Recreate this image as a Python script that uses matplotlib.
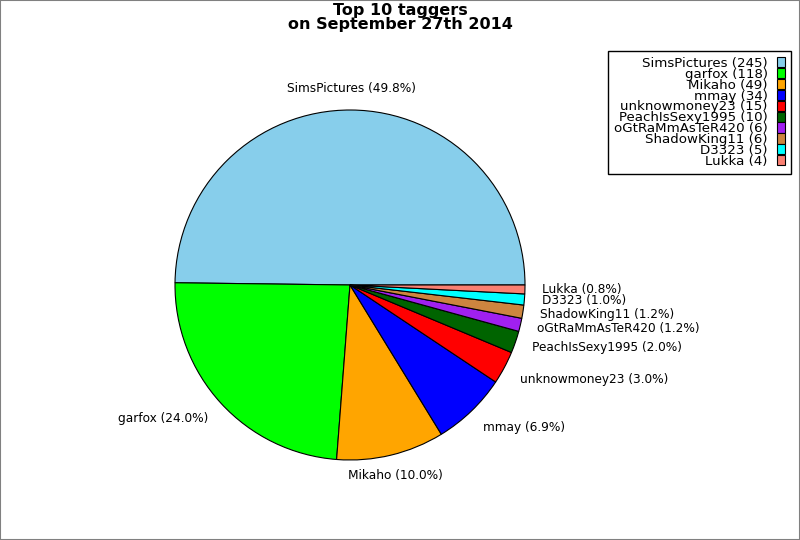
import matplotlib
matplotlib.use("Agg")
import matplotlib.pyplot as plt
from matplotlib.patches import Rectangle
from matplotlib.transforms import offset_copy

names = ["SimsPictures", "garfox", "Mikaho", "mmay", "unknowmoney23",
         "PeachIsSexy1995", "oGtRaMmAsTeR420", "ShadowKing11", "D3323", "Lukka"]
counts = [245, 118, 49, 34, 15, 10, 6, 6, 5, 4]
colors = ["#87CEEB", "#00FF00", "#FFA500", "#0000FF", "#FF0000",
          "#006400", "#A020F0", "#CD853F", "#00FFFF", "#FA8072"]

total = sum(counts)
pie_labels = [f"{n} ({c / total * 100:.1f}%)" for n, c in zip(names, counts)]
legend_labels = [f"{n} ({c})" for n, c in zip(names, counts)]

fig = plt.figure(figsize=(8, 5.4), dpi=100)
fig.patches.append(Rectangle((0, 0), 1, 1, transform=fig.transFigure,
                             fill=False, edgecolor="#808080", linewidth=1.5))

# pie center ~ (350, 285) px, radius ~175 px
ax = fig.add_axes([(350 - 175) / 800, (540 - 285 - 175) / 540, 350 / 800, 350 / 540])
wedges, texts = ax.pie(counts, labels=pie_labels, colors=colors, startangle=0,
                       counterclock=True, labeldistance=1.1,
                       wedgeprops=dict(edgecolor="black", linewidth=0.8),
                       textprops=dict(fontsize=8.7))
ax.set_xlim(-1, 1)
ax.set_ylim(-1, 1)
ax.set_aspect("equal")
for w in wedges:
    w.set_clip_on(False)

# labels near the vertical axis are centred horizontally
for t in texts:
    x, y = t.get_position()
    dy = 0
    if abs(x) < 0.35:
        t.set_ha("center")
        dy = 4 if y > 0 else -3
    elif y < -0.4:
        dy = -3.5
    if dy:
        t.set_transform(offset_copy(ax.transData, fig=fig, x=0, y=dy, units="dots"))

fig.suptitle("Top 10 taggers\non September 27th 2014", fontsize=11.5,
             fontweight="bold", y=0.995, linespacing=0.9)

leg = fig.legend(wedges, legend_labels, loc="upper right",
                 bbox_to_anchor=(791 / 800, 1 - 51 / 540), markerfirst=False,
                 fontsize=9.6, labelspacing=-0.16, handlelength=0.6, handleheight=0.8,
                 handletextpad=0.7, borderpad=0.45, fancybox=False,
                 edgecolor="black", framealpha=1, borderaxespad=0)
leg.get_frame().set_linewidth(1.0)
for t in leg.get_texts():
    t.set_ha("right")

fig.savefig("out.png", dpi=100)
